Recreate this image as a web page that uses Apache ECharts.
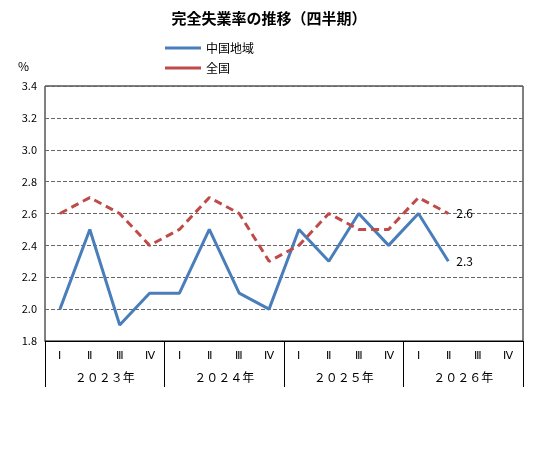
<!DOCTYPE html>
<html><head><meta charset="utf-8">
<script src="https://cdn.jsdelivr.net/npm/echarts@6/dist/echarts.min.js"></script>
<style>html,body{margin:0;padding:0;background:#fff}#c{width:538px;height:451px}</style>
</head><body><div id="c"></div>
<script>
const quarters=['Ⅰ','Ⅱ','Ⅲ','Ⅳ','Ⅰ','Ⅱ','Ⅲ','Ⅳ','Ⅰ','Ⅱ','Ⅲ','Ⅳ','Ⅰ','Ⅱ','Ⅲ','Ⅳ'];
const years=['２０２３年','２０２４年','２０２５年','２０２６年'];
const chugoku=[2.0,2.5,1.9,2.1,2.1,2.5,2.1,2.0,2.5,2.3,2.6,2.4,2.6,2.3,null,null];
const zenkoku=[2.6,2.7,2.6,2.4,2.5,2.7,2.6,2.3,2.4,2.6,2.5,2.5,2.7,2.6,null,null];
function withEnd(arr){
  let last=-1; arr.forEach((v,i)=>{if(v!=null)last=i;});
  return arr.map((v,i)=>i===last?{value:v,label:{show:true,position:'right',distance:8,color:'#000',fontSize:12,formatter:p=>p.value.toFixed(1)}}:v);
}
const font='"Noto Sans CJK JP", sans-serif';
const chart=echarts.init(document.getElementById('c'));
chart.setOption({
  animation:false,
  textStyle:{fontFamily:font},
  title:{text:'完全失業率の推移（四半期）',left:'center',top:6,textStyle:{fontSize:15,fontWeight:'bold',color:'#000',fontFamily:font}},
  legend:{orient:'vertical',left:160,top:37,itemGap:8,itemWidth:36,itemHeight:3,textStyle:{fontSize:12,color:'#000'},
    data:[{name:'中国地域',icon:'rect'},{name:'全国',icon:'rect'}]},
  grid:{left:45,right:15,top:86,bottom:110,show:true,borderColor:'#000',borderWidth:1},
  graphic:[{type:'text',left:18,top:60,style:{text:'%',fontSize:12,fill:'#000',fontFamily:font}}],
  xAxis:[
    {type:'category',data:quarters,boundaryGap:true,axisLine:{show:true,lineStyle:{color:'#000'}},axisTick:{show:false},
     axisLabel:{color:'#000',fontSize:11,margin:10,fontFamily:'serif'}},
    {type:'category',data:years,position:'bottom',boundaryGap:true,axisLine:{show:false},
     axisTick:{show:true,length:46,lineStyle:{color:'#000'}},axisLabel:{color:'#000',fontSize:12,margin:30}}
  ],
  yAxis:{type:'value',min:1.8,max:3.4,interval:0.2,axisLine:{show:false},axisTick:{show:false},
    axisLabel:{color:'#000',fontSize:11,formatter:v=>v.toFixed(1)},
    splitLine:{lineStyle:{color:'#666',type:'dashed',width:1}}},
  series:[
    {name:'中国地域',type:'line',data:withEnd(chugoku),symbol:'circle',showSymbol:true,symbolSize:0.1,lineStyle:{color:'#4a7ebb',width:3},itemStyle:{color:'#4a7ebb'}},
    {name:'全国',type:'line',data:withEnd(zenkoku),symbol:'circle',showSymbol:true,symbolSize:0.1,lineStyle:{color:'#be4b48',width:3,type:[8,5]},itemStyle:{color:'#be4b48'}}
  ]
});
</script></body></html>
